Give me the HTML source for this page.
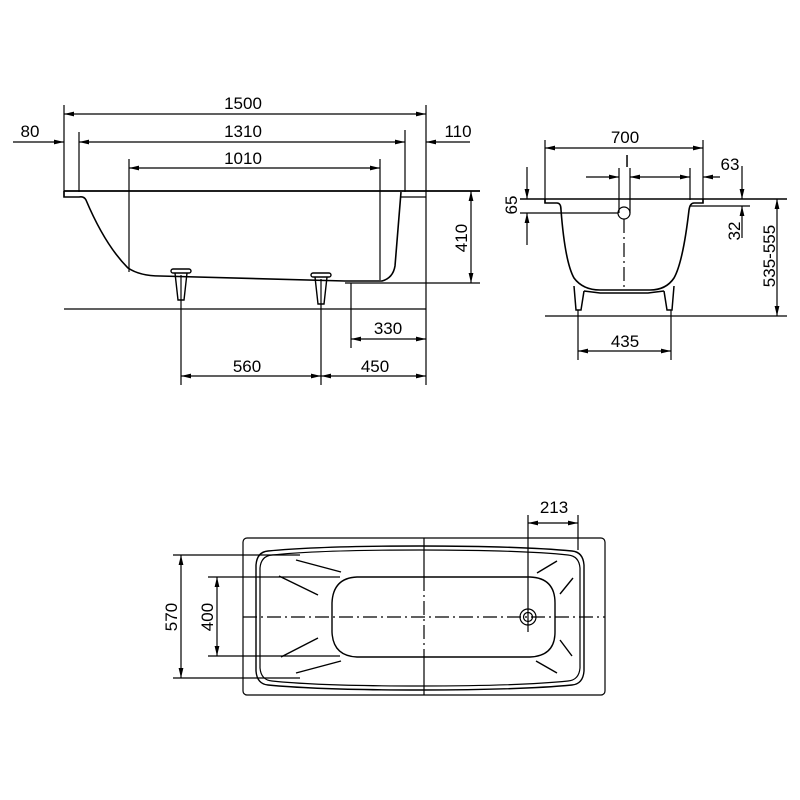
<!DOCTYPE html>
<html><head><meta charset="utf-8"><style>
html,body{margin:0;padding:0;background:#fff;}
svg{display:block;}
text{font-family:"Liberation Sans",Arial,sans-serif;font-size:17px;fill:#000;}
</style></head><body>
<svg width="800" height="800" viewBox="0 0 800 800" xmlns="http://www.w3.org/2000/svg">
<defs>
<marker id="a" viewBox="0 0 10 6" refX="10" refY="3" markerWidth="10" markerHeight="6" markerUnits="userSpaceOnUse" orient="auto-start-reverse">
<path d="M0,0.6 L10,3 L0,5.4 Z" fill="#000"/>
</marker>
</defs>
<g stroke="#000" fill="none" stroke-width="1.2">
<!-- SIDE VIEW -->
<line x1="64" y1="105" x2="64" y2="197"/>
<line x1="426" y1="105" x2="426" y2="385"/>
<line x1="64" y1="114" x2="426" y2="114" marker-start="url(#a)" marker-end="url(#a)"/>
<line x1="13" y1="142" x2="64" y2="142" marker-end="url(#a)"/>
<line x1="79" y1="142" x2="405" y2="142" marker-start="url(#a)" marker-end="url(#a)"/>
<line x1="426" y1="142" x2="470" y2="142" marker-start="url(#a)"/>
<line x1="79" y1="132" x2="79" y2="192"/>
<line x1="405" y1="130" x2="405" y2="192"/>
<line x1="129" y1="159" x2="129" y2="272"/>
<line x1="380" y1="159" x2="380" y2="280"/>
<line x1="129" y1="168" x2="380" y2="168" marker-start="url(#a)" marker-end="url(#a)"/>
<line x1="64" y1="191" x2="480" y2="191" stroke-width="1.8"/>
<path d="M64,191 L64,197 L79,197 Q84,196 86,200 Q105,245 128,268 Q140,276 160,276 L345,281 L382,281 Q393,278 395,266 L401,192" stroke-width="1.6"/>
<path d="M401,197 L426,197"/>
<line x1="345" y1="283" x2="480" y2="283"/>
<line x1="471" y1="191" x2="471" y2="283" marker-start="url(#a)" marker-end="url(#a)"/>
<line x1="64" y1="309" x2="426" y2="309"/>
<g stroke-width="1.4">
<rect x="171" y="269" width="20" height="4" rx="2"/>
<path d="M175,273 L178,300 L184,300 L187,273"/>
<rect x="311" y="273" width="20" height="4" rx="2"/>
<path d="M315,277 L318,304 L324,304 L327,277"/>
</g>
<line x1="181" y1="275" x2="181" y2="385"/>
<line x1="321" y1="279" x2="321" y2="385"/>
<line x1="351" y1="283" x2="351" y2="348"/>
<line x1="351" y1="339" x2="426" y2="339" marker-start="url(#a)" marker-end="url(#a)"/>
<line x1="181" y1="376" x2="321" y2="376" marker-start="url(#a)" marker-end="url(#a)"/>
<line x1="321" y1="376" x2="426" y2="376" marker-start="url(#a)" marker-end="url(#a)"/>

<!-- END VIEW -->
<line x1="545" y1="140" x2="545" y2="203"/>
<line x1="703" y1="140" x2="703" y2="203"/>
<line x1="545" y1="148" x2="703" y2="148" marker-start="url(#a)" marker-end="url(#a)"/>
<line x1="520" y1="199" x2="787" y2="199" stroke-width="1.6"/>
<path d="M545,199 L545,203 L557,203 Q561,203 561,210 Q565,262 574,278 Q583,290 600,290 L650,290 Q666,290 674,278 Q683,262 689,210 Q690,203 694,203 L703,203 L703,199" stroke-width="1.6"/>
<line x1="586" y1="177" x2="619" y2="177" marker-end="url(#a)"/>
<line x1="630" y1="177" x2="660" y2="177" marker-start="url(#a)"/>
<line x1="660" y1="177" x2="690" y2="177" marker-end="url(#a)"/>
<line x1="703" y1="177" x2="720" y2="177" marker-start="url(#a)"/>
<line x1="690" y1="168" x2="690" y2="200"/>
<line x1="619" y1="168" x2="619" y2="213"/>
<line x1="630" y1="168" x2="630" y2="213"/>
<circle cx="624" cy="213" r="6"/>
<line x1="624" y1="219" x2="624" y2="288" stroke-dasharray="14,4,2,4"/>
<line x1="690" y1="206" x2="750" y2="206"/>
<line x1="742" y1="166" x2="742" y2="199" marker-end="url(#a)"/>
<line x1="742" y1="206" x2="742" y2="238" marker-start="url(#a)"/>
<line x1="520" y1="213" x2="618" y2="213"/>
<line x1="527" y1="167" x2="527" y2="199" marker-end="url(#a)"/>
<line x1="527" y1="213" x2="527" y2="245" marker-start="url(#a)"/>
<line x1="777" y1="199" x2="777" y2="316" marker-start="url(#a)" marker-end="url(#a)"/>
<line x1="545" y1="316" x2="787" y2="316"/>
<g stroke-width="1.5">
<path d="M574,286 L576,310 L581,310 L584,291"/>
<path d="M674,286 L672,310 L667,310 L664,291"/>
<path d="M584,291 L600,293 L648,293 L664,291"/>
</g>
<line x1="578" y1="310" x2="578" y2="360"/>
<line x1="671" y1="310" x2="671" y2="360"/>
<line x1="578" y1="351" x2="671" y2="351" marker-start="url(#a)" marker-end="url(#a)"/>

<!-- PLAN VIEW -->
<rect x="243" y="538" width="362" height="157" rx="4"/>
<path d="M268,551 Q320,546 420,546 Q520,546 572,551 Q583,552 584,565 L584,671 Q583,684 572,685 Q520,690 420,690 Q320,690 268,685 Q257,684 256,671 L256,565 Q257,552 268,551 Z" stroke-width="1.4"/>
<path d="M272,555 Q320,550 420,550 Q520,550 568,555 Q579,556 580,568 L580,668 Q579,680 568,681 Q520,686 420,686 Q320,686 272,681 Q261,680 260,668 L260,568 Q261,556 272,555 Z"/>
<path d="M357,577 L530,577 Q555,578 555,603 L555,632 Q555,656 530,657 L357,657 Q333,656 332,632 L332,603 Q333,578 357,577 Z" stroke-width="1.4"/>
<line x1="424" y1="538" x2="424" y2="577"/>
<line x1="424" y1="577" x2="424" y2="657" stroke-dasharray="14,4,2,4"/>
<line x1="424" y1="657" x2="424" y2="695"/>
<line x1="243" y1="617" x2="605" y2="617" stroke-dasharray="14,4,2,4"/>
<circle cx="528" cy="617" r="8"/>
<circle cx="528" cy="617" r="4.5"/>
<line x1="528" y1="515" x2="528" y2="632"/>
<line x1="578" y1="515" x2="578" y2="550"/>
<line x1="528" y1="523" x2="578" y2="523" marker-start="url(#a)" marker-end="url(#a)"/>
<line x1="173" y1="555" x2="300" y2="555"/>
<line x1="173" y1="678" x2="300" y2="678"/>
<line x1="181" y1="555" x2="181" y2="678" marker-start="url(#a)" marker-end="url(#a)"/>
<line x1="208" y1="577" x2="340" y2="577"/>
<line x1="208" y1="656" x2="340" y2="656"/>
<line x1="217" y1="577" x2="217" y2="656" marker-start="url(#a)" marker-end="url(#a)"/>
<g stroke-width="1.4">
<line x1="296" y1="560" x2="341" y2="572"/>
<line x1="279" y1="576" x2="318" y2="595"/>
<line x1="281" y1="657" x2="318" y2="638"/>
<line x1="296" y1="673" x2="341" y2="661"/>
<line x1="537" y1="573" x2="557" y2="561"/>
<line x1="560" y1="594" x2="573" y2="578"/>
<line x1="560" y1="640" x2="572" y2="656"/>
<line x1="536" y1="661" x2="557" y2="673"/>
</g>
</g>
<g>
<text x="243" y="109" text-anchor="middle">1500</text>
<text x="243" y="137" text-anchor="middle">1310</text>
<text x="243" y="164" text-anchor="middle">1010</text>
<text x="30" y="137" text-anchor="middle">80</text>
<text x="458" y="137" text-anchor="middle">110</text>
<text transform="translate(467,238) rotate(-90)" text-anchor="middle">410</text>
<text x="388" y="334" text-anchor="middle">330</text>
<text x="247" y="372" text-anchor="middle">560</text>
<text x="375" y="372" text-anchor="middle">450</text>
<text x="625" y="143" text-anchor="middle">700</text>
<text x="627" y="167" text-anchor="middle">l</text>
<text x="730" y="170" text-anchor="middle">63</text>
<text transform="translate(740,231) rotate(-90)" text-anchor="middle">32</text>
<text transform="translate(517,205) rotate(-90)" text-anchor="middle">65</text>
<text transform="translate(775,256) rotate(-90)" text-anchor="middle">535-555</text>
<text x="625" y="347" text-anchor="middle">435</text>
<text x="554" y="513" text-anchor="middle">213</text>
<text transform="translate(177,617) rotate(-90)" text-anchor="middle">570</text>
<text transform="translate(213,617) rotate(-90)" text-anchor="middle">400</text>
</g>
</svg>
</body></html>
